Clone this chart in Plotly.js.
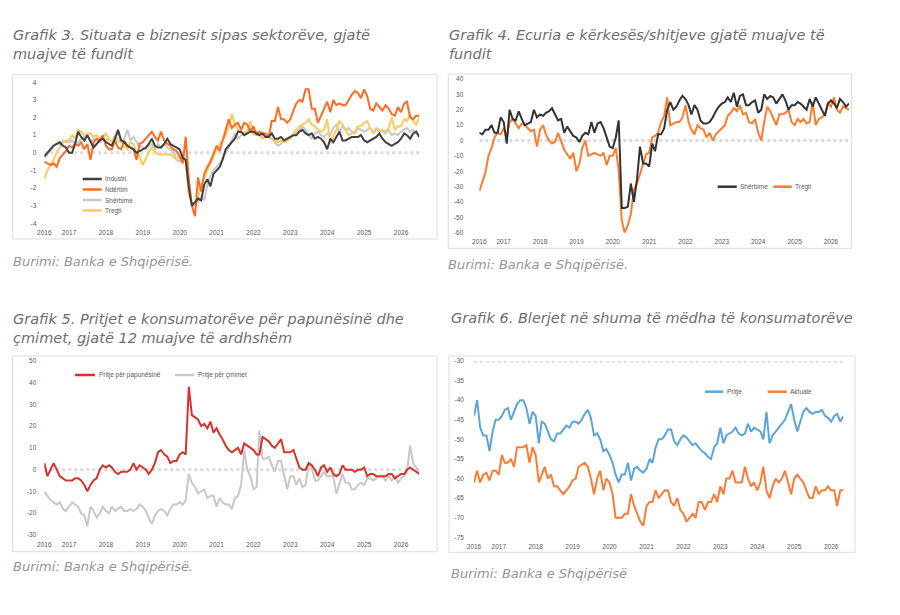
<!DOCTYPE html>
<html>
<head>
<meta charset="utf-8">
<script src="https://cdn.plot.ly/plotly-3.0.1.min.js"></script>
<style>html,body{margin:0;padding:0;background:#fff;}#chart{width:900px;height:615px;}</style>
</head>
<body>
<div id="chart"></div>
<script>
// ---------- DATA ----------
const yearLabels = ['2016','2017','2018','2019','2020','2021','2022','2023','2024','2025','2026'];
const startYear = 2016, startMonth = 5;

// Grafik 3
const g3Names = ['Industri','Ndërtim','Shërbime','Tregti'];
const industri = [-0.2,0.0,0.2,0.4,0.5,0.6,0.4,0.3,
 0.0,0.0,0.5,1.2,0.9,0.7,1.0,0.6,0.3,0.5,0.7,0.8,
 0.6,0.5,0.4,0.8,1.3,0.7,0.6,0.4,0.3,0.2,0.0,0.1,
 0.2,0.3,0.5,0.8,0.4,0.3,0.3,0.5,0.8,0.5,0.4,0.3,
 0.2,-0.3,-0.4,-2.0,-3.0,-2.8,-2.6,-2.7,-1.8,-1.5,-1.9,-1.2,
 -1.0,-0.8,-0.4,0.2,0.4,0.6,0.8,1.2,1.2,1.0,1.1,1.2,
 1.2,1.1,1.0,1.1,0.9,0.9,1.1,0.8,0.8,0.9,0.7,0.8,
 0.9,1.0,1.0,1.2,1.3,1.1,1.0,1.1,0.8,0.9,0.8,0.6,
 0.2,0.8,0.6,0.9,1.2,0.7,0.7,0.8,0.9,0.9,0.9,1.0,
 0.7,0.6,0.7,0.8,0.9,1.1,0.8,0.6,0.5,0.4,0.5,0.6,
 0.8,1.1,1.0,0.8,1.1,1.2,0.9];
const ndertim = [-0.5,-0.6,-0.7,-0.6,-0.8,-0.3,-0.1,0.1,
 0.4,0.3,0.5,0.4,0.6,0.2,0.5,-0.4,0.6,0.8,0.7,1.0,
 0.4,0.2,0.2,0.7,0.3,0.2,0.7,0.4,0.3,0.2,-0.4,0.5,
 0.6,0.8,1.0,1.2,0.9,0.7,1.2,0.7,0.5,0.4,0.2,0.1,
 -0.2,-0.6,0.9,-1.5,-3.0,-3.6,-1.4,-2.2,-1.2,-0.8,-0.5,-0.1,
 0.4,0.1,0.7,1.3,1.9,1.4,1.6,1.7,1.3,1.7,1.6,1.2,
 1.5,1.0,1.2,1.1,1.1,0.9,1.8,1.8,2.6,1.9,1.9,1.7,
 1.9,2.4,2.8,3.0,2.9,3.6,3.6,2.5,2.5,1.7,2.1,2.5,
 2.9,2.3,3.0,2.7,2.8,2.7,2.7,3.0,3.3,3.5,3.4,3.1,
 3.6,3.2,2.5,2.4,2.8,2.6,2.4,2.7,2.5,2.2,2.1,2.6,
 2.3,2.8,2.9,2.0,1.9,2.1,2.1];
const sherbime3 = [-0.3,-0.1,0.2,0.4,0.5,0.5,0.7,0.6,
 0.6,0.7,0.5,0.6,0.8,0.9,1.0,0.6,0.8,0.7,0.6,0.8,
 0.7,0.8,0.6,1.0,0.7,0.6,0.8,1.3,0.7,0.9,0.6,0.4,
 0.3,0.2,0.4,0.5,0.2,0.5,0.3,0.5,0.3,0.2,0.1,-0.4,
 -0.5,-0.1,-0.4,-2.0,-2.9,-3.0,-2.8,-2.5,-2.7,-1.8,-1.3,-1.0,
 -0.8,-0.6,-0.3,0.0,0.3,0.7,1.1,0.8,1.0,1.1,1.2,1.3,
 1.2,1.0,1.1,1.0,0.9,0.9,0.8,0.6,0.4,0.5,0.7,0.8,
 0.9,1.0,1.2,1.3,1.5,1.3,1.0,0.8,1.1,1.2,1.0,0.9,
 1.1,1.0,1.4,1.6,1.2,1.5,1.3,1.4,1.2,1.1,1.4,1.3,
 1.2,1.3,1.4,1.2,1.4,1.3,1.2,1.1,1.3,1.0,1.1,1.0,
 1.2,1.3,1.4,1.2,1.3,1.1,1.0];
const tregti3 = [-1.5,-1.0,-0.7,-0.4,0.0,0.3,0.6,0.7,
 0.7,1.0,0.8,1.3,1.2,1.0,1.1,1.1,0.9,1.0,0.8,0.9,
 1.1,0.7,0.6,0.9,1.1,0.6,0.4,0.2,0.6,0.5,0.0,-0.2,
 -0.7,-0.3,0.0,0.3,0.1,-0.1,-0.1,-0.1,-0.1,-0.1,-0.2,-0.4,
 -0.2,-0.5,-0.4,-2.4,-2.9,-2.9,-2.6,-1.8,-1.4,-1.0,-0.6,-0.2,
 0.2,0.5,0.7,1.0,1.5,2.2,1.6,1.3,1.2,1.1,1.2,1.8,
 1.0,1.2,1.0,0.8,0.9,0.9,0.8,0.7,0.6,0.7,0.6,0.7,
 0.8,1.1,1.3,1.5,1.6,1.7,1.9,1.6,1.5,1.3,1.2,1.3,
 1.9,0.5,0.9,1.3,1.8,1.6,1.3,1.0,1.1,1.2,1.5,1.5,
 1.7,1.8,1.4,1.1,1.3,1.2,1.3,1.2,1.4,2.0,1.3,1.5,
 1.5,1.9,1.8,2.2,1.8,1.6,2.0];
const g3Ticks = [-4,-3,-2,-1,0,1,2,3,4];

// Grafik 4
const g4Names = ['Shërbime','Tregti'];
const sherbime4 = [5,4,7,7,10,5,5,15,
 12,-2,20,14,13,19,14,10,11,12,20,15,
 17,16,18,19,21,17,13,14,5,9,6,3,
 2,-1,3,5,4,12,5,11,12,8,2,-4,
 -5,2,13,-44,-44,-43,-28,-40,-25,-4,-15,-15,
 -17,-2,-7,4,4,8,20,25,20,22,26,29,
 27,23,17,23,20,13,11,11,12,15,19,22,
 24,25,28,25,31,22,29,30,23,23,25,26,
 18,20,30,27,29,28,24,27,30,26,20,23,
 23,25,24,22,20,27,22,28,24,20,16,24,
 26,24,21,27,25,22,24];
const tregti4 = [-33,-27,-21,-10,-5,2,5,4,
 8,2,12,14,11,8,11,10,8,6,7,-4,
 7,10,4,0,-2,-1,5,0,-6,-9,-12,-8,
 -20,-15,-5,0,-10,-9,-8,-9,-10,-8,-16,-10,
 -10,-5,-20,-52,-60,-55,-48,-32,-28,-22,-15,-9,
 -8,2,3,5,12,16,28,10,11,12,12,15,
 23,12,7,4,10,8,7,2,5,0,4,6,
 8,10,16,18,21,19,23,17,18,12,11,14,
 5,0,12,22,19,14,10,17,17,18,20,12,
 10,14,12,14,11,12,25,10,14,15,17,24,
 22,28,20,18,22,21,20];
const g4Ticks = [-60,-50,-40,-30,-20,-10,0,10,20,30,40];

// Grafik 5
const g5Names = ['Pritje për papunësinë','Pritje për çmimet'];
const papunesia = [3,-3,0,3,0,-3,-4,-5,
 -5,-5,-4,-4,-5,-7,-10,-7,-5,-4,0,2,
 1,2,1,-1,-2,-1,-1,-1,0,3,0,2,
 1,0,-2,0,3,8,9,7,6,3,4,4,
 7,8,7,38,25,24,23,20,21,19,22,17,
 19,16,14,11,9,8,9,10,7,12,11,10,
 9,7,7,15,14,13,11,10,12,14,8,8,
 8,9,5,1,0,0,3,2,0,-3,1,2,
 -1,1,-2,-3,-2,2,0,0,0,-1,0,0,
 1,-3,-2,-2,-3,-3,-3,-3,-2,-2,-4,-3,
 -2,-2,0,1,0,-1,-2];
const cmimet = [-10,-12,-14,-15,-16,-15,-18,-19,
 -17,-15,-16,-17,-20,-21,-26,-17,-19,-22,-20,-17,
 -19,-20,-17,-19,-18,-17,-19,-19,-18,-19,-18,-16,
 -17,-19,-22,-25,-21,-19,-18,-19,-21,-18,-16,-16,
 -15,-16,-14,-2,-6,-8,-11,-10,-9,-13,-12,-12,
 -17,-13,-15,-16,-16,-18,-13,-12,-7,9,0,-3,
 -9,-8,18,5,5,6,2,-1,4,4,-2,-9,
 -3,-3,-7,-4,-8,-7,2,1,-5,-5,-3,-1,
 -3,-3,-3,-11,-6,-2,-6,-6,-9,-9,-7,-6,
 -7,-4,-4,-5,-4,-3,-3,-5,-3,-5,-3,-6,
 -4,-3,-1,11,3,1,-1];
const g5Ticks = [-30,-20,-10,0,10,20,30,40,50];

// Grafik 6
const g6Names = ['Pritje','Aktuale'];
const pritje = [-44,-40,-47,-49,-49,-53,-48,-45,
 -45,-44,-42.5,-42,-45,-43,-41,-40,-40,-42,-46,-43,
 -44,-51,-45.5,-46,-48,-50,-50.5,-48.5,-48.5,-47.5,-46.5,-47,
 -45.5,-45.5,-46,-45,-43.5,-42.5,-44.5,-49,-48.5,-50,-53,-52.5,
 -54,-56,-59,-61,-59,-59,-56,-60.5,-57.5,-57,-58,-58.5,
 -57.5,-55,-56,-52,-50,-50,-49,-47.5,-47.5,-50.5,-51.5,-50,
 -49,-49.5,-50.5,-51.5,-51,-52,-53,-53.5,-54.5,-55,-52,-51,
 -47,-51,-49,-48.5,-48,-47,-48.5,-49,-48.5,-46,-48,-47,
 -47.5,-48,-50,-43,-51,-49,-48,-47,-46,-45,-43,-41,
 -45,-48,-45.5,-43,-42,-43,-43.5,-43,-43,-42.5,-44,-44.5,
 -45.5,-44,-43.5,-45.5,-44];
const aktuale = [-61,-58,-61,-59,-58.5,-60.5,-58,-58,
 -59,-54,-56,-56,-55,-57,-52,-52,-52,-51.5,-56,-52,
 -54,-61,-59,-57,-60,-59,-62,-62,-63,-64,-63,-62,
 -60.5,-60,-57,-56.5,-56,-57,-60,-64,-60,-58,-63,-60,
 -61,-64,-70,-70,-70,-69,-69,-64,-67,-69,-71,-72,
 -67,-66,-66,-63,-65,-64,-63,-63,-66,-67,-65,-68,
 -69,-71,-70,-69,-70,-66,-66,-68,-66,-66,-64,-66,
 -62,-64,-60,-60,-58,-61,-61,-61,-57,-60,-62,-61,
 -63,-61,-57,-63,-65,-62,-60,-61,-60,-58,-61,-64,
 -60,-59,-60,-61,-63,-65,-65,-62,-64,-63,-63,-62,
 -63,-63,-67,-63,-63];
const g6Ticks = [-75,-70,-65,-60,-55,-50,-45,-40,-35,-30];

const titles = [
  ['Grafik 3. Situata e biznesit sipas sektorëve, gjatë','muajve të fundit'],
  ['Grafik 4. Ecuria e kërkesës/shitjeve gjatë muajve të','fundit'],
  ['Grafik 5. Pritjet e konsumatorëve për papunësinë dhe','çmimet, gjatë 12 muajve të ardhshëm'],
  ['Grafik 6. Blerjet në shuma të mëdha të konsumatorëve']
];
const sources = ['Burimi: Banka e Shqipërisë.','Burimi: Banka e Shqipërisë.','Burimi: Banka e Shqipërisë.','Burimi: Banka e Shqipërisë'];

// ---------- HELPERS ----------
const W = 900, H = 615;
const px = v => v / W;
const py = v => 1 - v / H;
function monthSeries(n) {
  const out = []; let y = startYear, m = startMonth;
  for (let k = 0; k < n; k++) {
    out.push(y + '-' + String(m).padStart(2, '0') + '-01');
    m++; if (m > 12) { m = 1; y++; }
  }
  return out;
}
function yearTicks(x) {
  return yearLabels.map((y, k) => k === 0 ? x[0] : y + '-01-01');
}
const tickFont = {family: 'Liberation Sans, Arial, sans-serif', size: 6.5, color: '#595959'};

const x3 = monthSeries(industri.length);
const x4 = monthSeries(sherbime4.length);
const x5 = monthSeries(papunesia.length);
const x6 = monthSeries(pritje.length);

function line(x, y, color, xa, ya, name, w) {
  return {type: 'scatter', mode: 'lines', x: x, y: y, name: name, xaxis: xa, yaxis: ya,
    line: {color: color, width: w || 2}, showlegend: false, hoverinfo: 'skip'};
}

const c3 = ['#404040', '#FF6B21', '#C8C8C8', '#FFC95E'];
const c4 = ['#333333', '#FF7B2E'];
const c5 = ['#D7322B', '#C8C8C8'];
const c6 = ['#5AA5DC', '#FF7B35'];

const data = [
  line(x3, sherbime3, c3[2], 'x', 'y', g3Names[2]),
  line(x3, tregti3, c3[3], 'x', 'y', g3Names[3]),
  line(x3, ndertim, c3[1], 'x', 'y', g3Names[1]),
  line(x3, industri, c3[0], 'x', 'y', g3Names[0]),
  line(x4, tregti4, c4[1], 'x2', 'y2', g4Names[1]),
  line(x4, sherbime4, c4[0], 'x2', 'y2', g4Names[0]),
  line(x5, cmimet, c5[1], 'x3', 'y3', g5Names[1]),
  line(x5, papunesia, c5[0], 'x3', 'y3', g5Names[0]),
  line(x6, pritje, c6[0], 'x4', 'y4', g6Names[0]),
  line(x6, aktuale, c6[1], 'x4', 'y4', g6Names[1])
];

function xAxis(x, d0, d1, anchor) {
  return {type: 'date', domain: [px(d0), px(d1)], range: [x[0], x[x.length - 1]], anchor: anchor,
    tickmode: 'array', tickvals: yearTicks(x), ticktext: yearLabels, tickfont: tickFont,
    showgrid: false, zeroline: false, showline: false, ticks: '', ticklabelstandoff: 4, fixedrange: true};
}
function yAxis(ticks, top, bottom, anchor, standoff) {
  return {domain: [py(bottom), py(top)], range: [ticks[0], ticks[ticks.length - 1]], anchor: anchor,
    tickmode: 'array', tickvals: ticks, ticktext: ticks.map(String), tickfont: tickFont,
    showgrid: false, zeroline: false, showline: false, ticks: '', ticklabelstandoff: standoff, fixedrange: true};
}

const shapes = [];
const annotations = [];
function box(x0, y0, x1, y1) {
  shapes.push({type: 'rect', xref: 'paper', yref: 'paper', x0: px(x0), x1: px(x1), y0: py(y1), y1: py(y0),
    line: {color: '#DDDDDD', width: 1}, fillcolor: 'rgba(0,0,0,0)', layer: 'below'});
}
function dotted(xa, ya, x, yv) {
  shapes.push({type: 'line', xref: xa, yref: ya, x0: x[0], x1: x[x.length - 1], y0: yv, y1: yv,
    line: {color: '#DADADA', width: 3, dash: 'dot'}, layer: 'below'});
}
function legItem(x0, x1, y, color, text) {
  shapes.push({type: 'line', xref: 'paper', yref: 'paper', x0: px(x0), x1: px(x1), y0: py(y), y1: py(y),
    line: {color: color, width: 2.5}});
  annotations.push({xref: 'paper', yref: 'paper', x: px(x1 + 1.5), y: py(y), xanchor: 'left', yanchor: 'middle',
    text: text, showarrow: false, font: {family: 'Liberation Sans, Arial, sans-serif', size: 6.5, color: '#595959'}});
}
function txt(x, yTop, lines, size, color) {
  annotations.push({xref: 'paper', yref: 'paper', x: px(x), y: py(yTop), xanchor: 'left', yanchor: 'top',
    align: 'left', text: lines.join('<br>'), showarrow: false, borderpad: 0,
    font: {family: 'DejaVu Sans, sans-serif', size: size, color: color, style: 'italic', weight: 200}});
}

// boxes
box(12.7, 74.7, 437, 239);
box(448.3, 74, 851.7, 248.3);
box(12.7, 356, 437, 551.7);
box(449, 356, 855, 552.3);
// dotted axis lines
dotted('x', 'y', x3, 0);
dotted('x2', 'y2', x4, 0);
dotted('x3', 'y3', x5, 0);
dotted('x4', 'y4', x6, -30);
// legends
legItem(82.7, 101.7, 179, c3[0], g3Names[0]);
legItem(82.7, 101.7, 189.5, c3[1], g3Names[1]);
legItem(82.7, 101.7, 200, c3[2], g3Names[2]);
legItem(82.7, 101.7, 210.5, c3[3], g3Names[3]);
legItem(717.7, 736.7, 186.7, c4[0], g4Names[0]);
legItem(773.3, 791.7, 186.7, c4[1], g4Names[1]);
legItem(75, 95, 375, c5[0], g5Names[0]);
legItem(175, 194.3, 375, c5[1], g5Names[1]);
legItem(705, 723.3, 391.7, c6[0], g6Names[0]);
legItem(767.7, 786.7, 391.7, c6[1], g6Names[1]);
// titles (top edge of text block)
const tCol = '#6E6E6E', sCol = '#959595';
txt(12, 25.5, titles[0], 14.5, tCol);
txt(448, 25.5, titles[1], 14.5, tCol);
txt(12, 309.5, titles[2], 14.5, tCol);
txt(450, 308.5, titles[3], 14.5, tCol);
// sources
txt(12, 253.5, [sources[0]], 13, sCol);
txt(447, 256.5, [sources[1]], 13, sCol);
txt(12, 557.5, [sources[2]], 13, sCol);
txt(450, 564.5, [sources[3]], 13, sCol);

const layout = {
  width: W, height: H, margin: {l: 0, r: 0, t: 0, b: 0, pad: 0},
  paper_bgcolor: '#FFFFFF', plot_bgcolor: 'rgba(0,0,0,0)', showlegend: false,
  xaxis: xAxis(x3, 44.3, 419.3, 'y'),
  yaxis: yAxis(g3Ticks, 82.3, 223.3, 'x', 7),
  xaxis2: xAxis(x4, 479.3, 849, 'y2'),
  yaxis2: yAxis(g4Ticks, 79, 232.7, 'x2', 15),
  xaxis3: xAxis(x5, 44.3, 419.3, 'y3'),
  yaxis3: yAxis(g5Ticks, 360.7, 535, 'x3', 7),
  xaxis4: xAxis(x6, 474, 843.3, 'y4'),
  yaxis4: yAxis(g6Ticks, 361, 537.3, 'x4', 9),
  shapes: shapes, annotations: annotations
};

Plotly.newPlot('chart', data, layout, {staticPlot: true, displayModeBar: false});
</script>
</body>
</html>
